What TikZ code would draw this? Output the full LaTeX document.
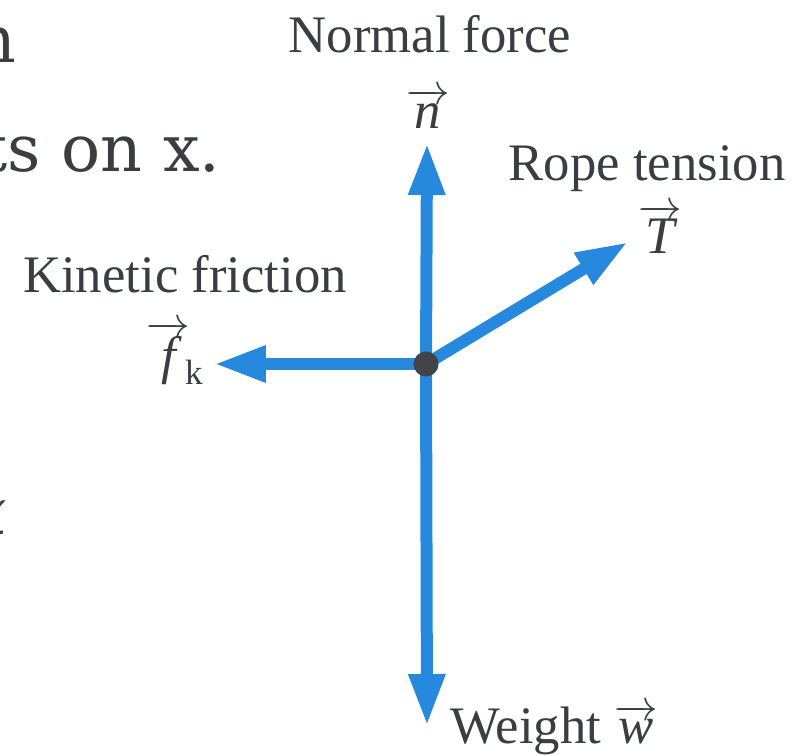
\documentclass[tikz,border=0pt]{standalone}
\usepackage{fontspec}
\setmainfont{Liberation Serif}
\newfontfamily\pagefont{DejaVu Serif}
\usetikzlibrary{arrows.meta}
\definecolor{forceblue}{RGB}{38,137,222}
\definecolor{dotgray}{RGB}{66,68,72}
\definecolor{inkgray}{RGB}{58,62,66}
\tikzset{
    force/.style={draw=forceblue, line width=0.24cm, -{Triangle[length=1.04cm,width=0.68cm]}},
    lbl/.style={text=inkgray, font=\fontsize{30}{36}\selectfont, inner sep=0pt},
    pagetext/.style={text=inkgray, font=\pagefont\fontsize{37}{44}\selectfont, inner sep=0pt},
    body/.style={circle, fill=dotgray, minimum size=0.5cm, inner sep=0pt},
}

\begin{document}
\begin{tikzpicture}[x=0.02cm, y=-0.02cm]
    \useasboundingbox (0,0) rectangle (801,754);
    % text of the page, cut at the left edge
    \node[pagetext, anchor=base east] (pg1) at (17,62) {n};
    \node[pagetext, anchor=base east] (pg2) at (221,171) {ts on x.};
    \node[pagetext, anchor=base east] (pg3) at (8,534) {\itshape x};
    % forces
    \coordinate (o) at (426,364);
    \coordinate (ntip) at (427,143);
    \coordinate (wtip) at (427,726);
    \coordinate (ftip) at (214,364);
    \coordinate (Ttip) at (628,242);
    \draw[force] (o) -- (ntip);
    \draw[force] (o) -- (wtip);
    \draw[force] (o) -- (ftip);
    \draw[force] (o) -- (Ttip);
    \node[body] (dot) at (o) {};
    % labels
    \node[lbl, anchor=base] (lnormal) at (430,52) {Normal force};
    \node[lbl, anchor=base] (vn) at (428,128) {$\overrightarrow{\textit{n}}$};
    \node[lbl, anchor=base] (lrope) at (647,180) {Rope tension};
    \node[lbl, anchor=base] (vT) at (660,253) {$\overrightarrow{\textit{T}}$};
    \node[lbl, anchor=base] (lkin) at (185,292) {Kinetic friction};
    \node[lbl, anchor=base east] (vf) at (203,373)
        {$\overrightarrow{\textit{f}}$\kern-3pt\raisebox{-0.22em}{\fontsize{20}{24}\selectfont k}};
    \node[lbl, anchor=base] (lweight) at (554,743) {Weight $\overrightarrow{\textit{w}}$};
\end{tikzpicture}
\end{document}
